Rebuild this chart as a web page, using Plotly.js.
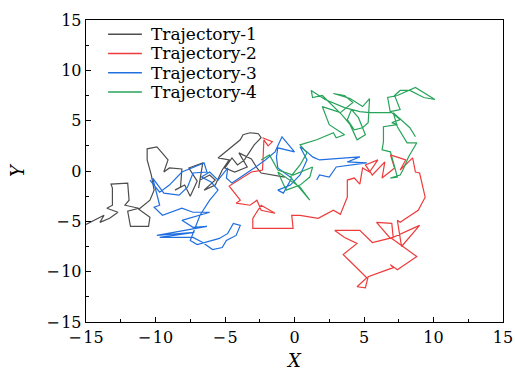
<!DOCTYPE html>
<html>
<head>
<meta charset="utf-8">
<script src="https://cdn.plot.ly/plotly-3.0.1.min.js"></script>
<style>html,body{margin:0;padding:0;background:#fff;}#chart{width:515px;height:371px;}</style>
</head>
<body>
<div id="chart"></div>
<script>
const seriesNames = ["Trajectory-1", "Trajectory-2", "Trajectory-3", "Trajectory-4"];

const traj1X = [-15.0,-14.4,-13.7,-14.0,-13.3,-12.7,-13.5,-13.1,-13.1,-13.2,-12.0,-11.9,-12.2,-11.2,-12.0,-11.8,-10.5,-10.4,-11.2,-10.4,-10.1,-10.3,-10.6,-10.6,-9.9,-9.4,-9.1,-9.4,-9.0,-8.1,-8.2,-8.6,-7.9,-7.5,-7.0,-7.6,-6.6,-6.9,-6.8,-6.1,-5.7,-6.5,-5.7,-5.2,-4.7,-5.5,-4.8,-3.9,-3.7,-3.2,-2.6,-2.4,-2.9,-3.6,-4.1,-4.5,-5.0,-4.3,-3.4,-4.0,-3.1,-2.7,-2.4,-0.7];
const traj1Y = [-5.3,-4.9,-4.4,-5.1,-4.7,-4.1,-3.7,-3.4,-1.7,-1.3,-1.2,-2.9,-3.4,-3.7,-4.0,-5.5,-5.5,-4.6,-3.8,-2.9,-1.9,-0.4,1.1,2.2,2.4,1.6,1.1,-0.1,0.3,0.2,-1.6,-1.9,-1.4,-2.5,-1.0,0.3,0.8,-1.7,-0.9,-0.4,-0.9,-1.9,-1.4,0.1,1.1,1.3,2.1,3.1,3.6,3.8,3.7,3.3,2.6,1.1,0.6,1.3,0.3,-0.1,0.4,1.8,1.2,0.3,-0.2,-0.6];

const traj2X = [-2.3,-1.6,-1.9,-2.2,-2.3,-3.1,-4.7,-3.9,-4.2,-3.2,-2.7,-2.4,-1.4,-2.4,-3.0,-3.0,-0.1,-0.2,0.4,1.7,2.8,3.3,3.8,3.8,4.3,4.7,4.9,5.4,6.0,5.1,5.6,6.5,6.3,7.2,6.9,8.0,7.6,8.5,8.7,9.0,9.4,8.9,7.6,7.4,7.7,9.0,6.9,5.9,7.0,7.1,5.6,4.7,2.9,3.6,4.5,3.5,5.2,4.5,5.1,5.3,7.1,6.9,7.4,8.8,7.0];
const traj2Y = [3.3,2.9,2.5,3.1,0.1,-0.1,-1.5,-2.9,-3.2,-3.4,-2.9,-3.9,-4.2,-3.4,-4.7,-5.7,-5.7,-4.4,-4.4,-4.7,-3.9,-4.3,-2.6,-0.9,-0.7,-1.3,0.3,-0.1,1.1,0.6,-0.4,0.9,-0.7,0.3,1.6,1.1,0.1,1.3,-0.1,-0.2,-2.6,-3.9,-5.1,-4.9,-7.5,-5.4,-6.7,-5.1,-5.2,-6.6,-7.1,-5.9,-5.9,-6.6,-7.2,-8.3,-10.6,-11.5,-11.6,-10.5,-9.6,-9.3,-9.8,-8.5,-6.7];

const traj3X = [-10.4,-9.7,-9.0,-8.1,-6.5,-6.3,-7.3,-7.7,-8.3,-9.4,-10.2,-9.7,-10.1,-9.5,-8.1,-7.3,-6.1,-8.1,-7.3,-6.3,-9.9,-7.2,-9.7,-7.3,-6.6,-5.9,-5.2,-4.9,-4.2,-3.9,-4.4,-4.8,-5.4,-7.0,-7.5,-6.8,-6.1,-5.5,-6.0,-6.7,-6.1,-5.5,-4.8,-4.9,-4.5,-3.6,-2.9,-2.1,-1.4,-0.9,0.0,-1.2,-1.3,-1.2,-0.2,-0.8,-1.2,-0.3,0.4,0.9,0.4,0.9,1.3,1.8,4.7,3.8,5.2,3.0,2.5,1.8,1.6];
const traj3Y = [-0.9,-2.1,-1.4,-0.1,0.8,-0.1,-0.2,-1.6,-2.4,-2.2,-0.7,-3.4,-3.6,-4.4,-3.7,-4.1,-4.1,-4.9,-5.6,-5.5,-6.4,-6.1,-6.6,-6.6,-7.1,-7.8,-7.6,-6.9,-6.4,-5.4,-5.2,-6.2,-6.7,-7.3,-6.9,-4.4,-2.9,-1.9,-1.1,-0.6,-0.1,-0.9,0.3,-0.7,-1.2,-0.4,0.3,1.1,1.9,3.4,1.9,2.3,1.4,0.3,-0.7,-2.2,-1.9,-1.4,-0.4,1.1,2.4,1.9,1.4,1.1,1.4,0.9,0.8,0.4,-0.6,-0.4,-0.9];

const traj4X = [-2.4,-1.8,-1.2,-0.1,1.3,1.1,0.4,-0.6,-1.2,0.4,1.1,-0.3,0.4,0.9,0.4,1.6,2.8,3.0,3.6,2.5,2.0,3.3,4.2,3.6,2.8,4.0,4.9,5.4,5.3,4.9,4.3,3.8,4.1,4.6,5.1,4.5,4.0,3.4,2.0,1.3,1.2,2.2,3.6,4.7,5.4,6.9,6.7,7.4,8.7,10.1,9.3,8.3,7.6,7.2,7.6,6.9,7.6,7.0,7.4,6.4,6.4,6.3,6.9,7.1,7.4,6.9,7.6,7.8,8.2,8.8,8.1,7.4,7.1,8.3,8.7];
const traj4Y = [1.1,1.6,0.1,-0.4,0.4,-0.6,-1.4,-1.9,-0.1,-1.6,-2.9,-0.6,0.6,1.8,2.6,3.1,3.8,3.3,3.6,4.6,6.4,5.8,6.8,7.5,7.7,7.2,6.4,7.2,4.8,4.3,4.1,5.1,6.1,5.3,3.6,3.1,4.6,5.6,7.5,7.3,8.0,7.1,6.3,5.9,5.8,5.8,7.3,7.5,8.3,7.1,7.3,8.0,8.0,7.5,6.1,5.9,5.1,4.8,4.6,4.4,2.9,2.1,1.9,0.8,-0.6,-0.7,-0.4,0.1,1.4,2.8,2.8,4.4,5.8,4.3,3.4];

const seriesX = [traj1X, traj2X, traj3X, traj4X];
const seriesY = [traj1Y, traj2Y, traj3Y, traj4Y];
const seriesColors = ["#4d4d4d", "#ee3b3b", "#1f6fe0", "#27a35a"];

const tickVals = [-15, -10, -5, 0, 5, 10, 15];
const tickText = ["\u2212\u200a15", "\u2212\u200a10", "\u2212\u200a5", "0", "5", "10", "15"];

const FONT = "DejaVu Serif";

const traces = seriesNames.map((name, i) => ({
  type: "scatter",
  mode: "lines",
  name: name,
  x: seriesX[i],
  y: seriesY[i],
  line: {color: seriesColors[i], width: 1.2},
  showlegend: false
}));

// Legend drawn as paper-anchored layout items (key lines + labels)
const legendX0 = 0.053, legendX1 = 0.134, legendTextX = 0.150;
const legendTop = 0.953, legendStep = 0.0637;
const legendShapes = seriesNames.map((name, i) => ({
  type: "line", xref: "paper", yref: "paper",
  x0: legendX0, x1: legendX1,
  y0: legendTop - i * legendStep, y1: legendTop - i * legendStep,
  line: {color: seriesColors[i], width: 1.5}
}));
const legendLabels = seriesNames.map((name, i) => ({
  text: name, xref: "paper", yref: "paper",
  x: legendTextX, y: legendTop - i * legendStep,
  xanchor: "left", yanchor: "middle", showarrow: false,
  font: {family: FONT, size: 17, color: "#000"}
}));

const axisCommon = {
  range: [-15, 15],
  tickmode: "array",
  tickvals: tickVals,
  ticktext: tickText,
  ticks: "inside",
  ticklen: 5,
  tickwidth: 1,
  tickcolor: "#000",
  minor: {dtick: 2.5, tick0: 0, ticks: "inside", ticklen: 3, tickwidth: 1, tickcolor: "#000", showgrid: false},
  showline: true,
  linecolor: "#000",
  linewidth: 1.3,
  mirror: true,
  showgrid: false,
  zeroline: false,
  tickfont: {family: FONT, size: 16, color: "#000"}
};

const layout = {
  width: 515,
  height: 371,
  margin: {l: 86, r: 12, t: 20, b: 49},
  paper_bgcolor: "#fff",
  plot_bgcolor: "#fff",
  font: {family: FONT, color: "#000", size: 16},
  showlegend: false,
  shapes: legendShapes,
  annotations: legendLabels,
  xaxis: Object.assign({}, axisCommon, {
    title: {text: "<i>X</i>", font: {family: FONT, size: 18, color: "#000"}, standoff: 11}
  }),
  yaxis: Object.assign({}, axisCommon, {
    title: {text: "<i>Y</i>", font: {family: FONT, size: 18, color: "#000"}, standoff: 16}
  })
};

Plotly.newPlot("chart", traces, layout, {displayModeBar: false, staticPlot: true});
</script>
</body>
</html>
